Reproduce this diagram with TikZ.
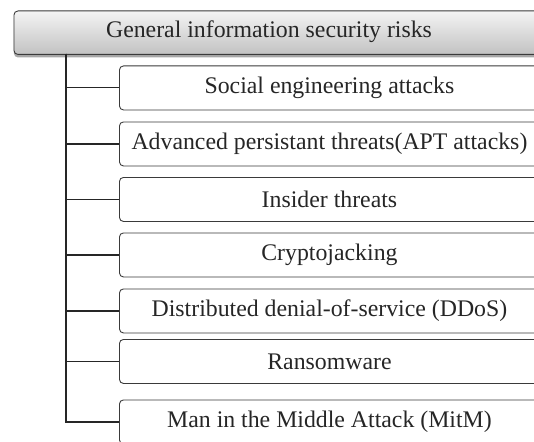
\documentclass[tikz,border=0pt]{standalone}
\usepackage{fontspec}
\setmainfont{Liberation Serif}
\usetikzlibrary{shadows}
\definecolor{linegray}{HTML}{3A3A3A}
\definecolor{topg}{HTML}{F4F4F4}
\definecolor{botg}{HTML}{C2C2C2}
\tikzset{
  childbox/.style={draw=linegray, line width=0.9pt, rounded corners=4pt, fill=white,
    minimum width=420pt, minimum height=44pt, anchor=north west, inner sep=0pt,
    font=\fontsize{23.8}{28}\selectfont, text=black!85},
  headbox/.style={draw=linegray, line width=0.9pt, rounded corners=4pt,
    top color=topg, bottom color=botg, minimum width=540pt, minimum height=43.5pt,
    anchor=north west, inner sep=0pt,
    drop shadow={shadow xshift=0pt, shadow yshift=-3pt, opacity=0.35, fill=black}},
  headtext/.style={font=\fontsize{23.8}{28}\selectfont, text=black!85, inner sep=0pt},
  conn/.style={draw=black!85, line width=1.1pt}
}
\begin{document}
\begin{tikzpicture}[x=1pt,y=-1pt]
\useasboundingbox (0,0) rectangle (534,441);
\clip (0,0) rectangle (534,441);
\node[headbox] (top) at (13.5,10.5) {};
\node[headtext] (toptext) at (269,32) {General information security risks};
\coordinate (trunk) at (66,54);
\node[childbox] (c1) at (119,65.5) {Social engineering attacks};
\node[childbox] (c2) at (119,121.5) {Advanced persistant threats(APT attacks)};
\node[childbox] (c3) at (119,177) {Insider threats};
\node[childbox] (c4) at (119,232.5) {Cryptojacking};
\node[childbox] (c5) at (119,288.5) {Distributed denial-of-service (DDoS)};
\node[childbox] (c6) at (119,339) {Ransomware};
\node[childbox] (c7) at (119,399.5) {Man in the Middle Attack (MitM)};
\foreach \i in {1,...,7}{
  \draw[conn] (trunk) |- (c\i.west);
}
\end{tikzpicture}
\end{document}
